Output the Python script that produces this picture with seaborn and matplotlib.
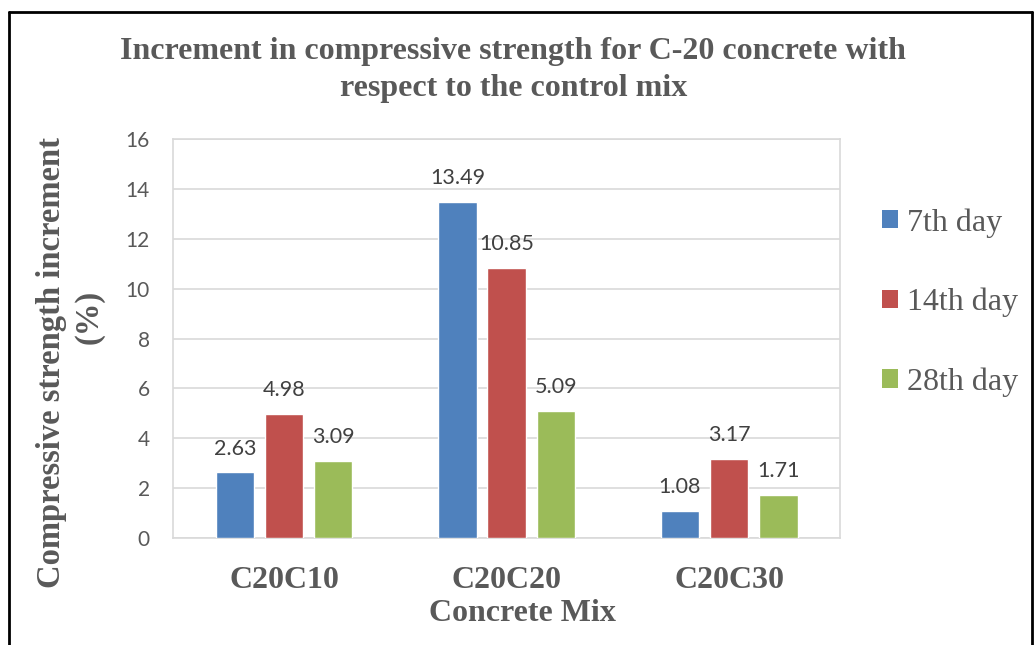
import pandas as pd
import seaborn as sns
import matplotlib.pyplot as plt
from matplotlib.patches import Patch
from matplotlib.lines import Line2D

mixes = ['C20C10', 'C20C20', 'C20C30']
days = ['7th day', '14th day', '28th day']
day7 = [2.63, 13.49, 1.08]
day14 = [4.98, 10.85, 3.17]
day28 = [3.09, 5.09, 1.71]
colors = ['#4F81BD', '#C0504D', '#9BBB59']

df = pd.DataFrame({
    'Mix': mixes * 3,
    'Day': [days[0]] * 3 + [days[1]] * 3 + [days[2]] * 3,
    'Value': day7 + day14 + day28,
})

sns.set_style('white')
GRAY = '#595959'
SERIF = 'Liberation Serif'

fig = plt.figure(figsize=(10.35, 6.45), dpi=100)
ax = fig.add_axes([0.167, 0.166, 0.645, 0.618])

sns.barplot(data=df, x='Mix', y='Value', hue='Day', hue_order=days,
            palette=colors, width=0.663, gap=0.22, saturation=1,
            legend=False, ax=ax, zorder=3)

for cont in ax.containers:
    for bar in cont:
        h = bar.get_height()
        ax.annotate(f'{h:.2f}', (bar.get_x() + bar.get_width() / 2, h),
                    xytext=(0, 10), textcoords='offset points',
                    ha='center', va='bottom', fontsize=15.5,
                    color='#404040', family='Lato')

ax.set_ylim(0, 16)
ax.set_yticks(range(0, 17, 2))
ax.yaxis.grid(True, color='#D9D9D9', linewidth=1.2, zorder=0)
ax.set_axisbelow(True)
for s in ax.spines.values():
    s.set_color('#D9D9D9')
    s.set_linewidth(1.2)
ax.tick_params(axis='y', labelsize=15, colors=GRAY, length=0, pad=16.5)
ax.tick_params(axis='x', length=0, pad=20)
for lbl in ax.get_yticklabels():
    lbl.set_family('Lato')
for lbl in ax.get_xticklabels():
    lbl.set_family(SERIF)
    lbl.set_fontweight('bold')
    lbl.set_fontsize(23)
    lbl.set_color(GRAY)

ax.set_xlabel('Concrete Mix', family=SERIF, fontweight='bold',
              fontsize=23, color=GRAY, labelpad=3)
ax.xaxis.label.set_x(0.524)
ax.set_ylabel('')

# y-axis title, two lines as in the original
fig.text(52 / 1035, 1 - 362 / 645, 'Compressive strength increment', rotation=90,
         ha='center', va='center', family=SERIF, fontweight='bold',
         fontsize=23.5, color=GRAY)
fig.text(89 / 1035, 1 - 317 / 645, '(%)', rotation=90,
         ha='center', va='center', family=SERIF, fontweight='bold',
         fontsize=23.5, color=GRAY)

fig.text(0.496, 0.891, 'Increment in compressive strength for C-20 concrete with\nrespect to the control mix',
         ha='center', va='center', family=SERIF, fontweight='bold',
         fontsize=23, color=GRAY, linespacing=1.36)

handles = [Patch(facecolor=c, edgecolor='none') for c in colors]
leg = fig.legend(handles, days, loc='upper left', bbox_to_anchor=(0.824, 0.722),
                 frameon=False, handlelength=0.5, handleheight=0.5,
                 handletextpad=0.3, labelspacing=1.57,
                 prop={'family': SERIF, 'size': 23})
for t in leg.get_texts():
    t.set_color(GRAY)

# outer border (left, top, right)
fig.add_artist(Line2D([0.0085, 0.0085], [0, 0.982], color='black', lw=2))
fig.add_artist(Line2D([0.0085, 0.997], [0.982, 0.982], color='black', lw=2))
fig.add_artist(Line2D([0.997, 0.997], [0, 0.982], color='black', lw=2))

fig.savefig('out.png', dpi=100)
